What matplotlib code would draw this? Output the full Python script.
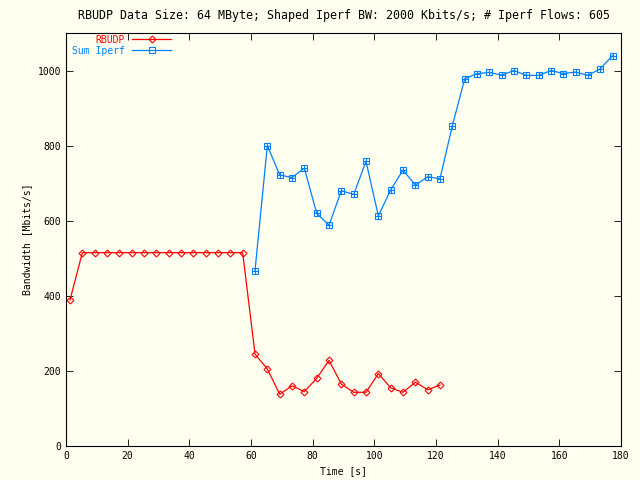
import numpy as np
import matplotlib
matplotlib.use("Agg")
import matplotlib.pyplot as plt

rbudp_t = [1.3 + 4 * k for k in range(31)]
rbudp_bw = [389] + [515] * 14 + [245, 205, 138, 160, 145, 180, 228, 165, 143, 143,
                                 193, 155, 143, 170, 150, 162]
iperf_t = [61.3 + 4 * k for k in range(30)]
iperf_bw = [467, 800, 722, 715, 740, 620, 588, 680, 670, 758, 613, 682, 735, 695, 717,
            712, 853, 978, 992, 995, 988, 1000, 987, 987, 1000, 992, 996, 987, 1005, 1040]

plt.rcParams["font.family"] = "DejaVu Sans Mono"
plt.rcParams["font.size"] = 7

fig = plt.figure(figsize=(6.4, 4.8), dpi=100, facecolor="#fffff0")
ax = fig.add_axes([66 / 640, 34 / 480, 555 / 640, 413 / 480], facecolor="#fffff0")

red = "#ff0000"
blue = "#0080ff"
ax.plot(rbudp_t, rbudp_bw, color=red, lw=0.9, marker="D", ms=3.5, mfc="none", mew=0.8, label="RBUDP")
ax.plot(iperf_t, iperf_bw, color=blue, lw=0.9, marker="s", ms=5, mfc="none", mew=0.8, label="Sum Iperf")
ax.plot(iperf_t, iperf_bw, color=blue, lw=0, marker="+", ms=5, mew=0.8)

ax.set_xlim(0, 180)
ax.set_ylim(0, 1100)
ax.set_xticks(range(0, 181, 20))
ax.set_yticks(range(0, 1001, 200))
ax.tick_params(direction="in", top=True, right=True, length=5, width=0.6)
for s in ax.spines.values():
    s.set_linewidth(0.8)
ax.set_xlabel("Time [s]")
ax.set_ylabel("Bandwidth [Mbits/s]")
ax.set_title("RBUDP Data Size: 64 MByte; Shaped Iperf BW: 2000 Kbits/s; # Iperf Flows: 605", pad=10)

leg = ax.legend(loc="upper left", bbox_to_anchor=(0.0, 1.01), frameon=False, markerfirst=False,
                handlelength=4, borderaxespad=0.2, labelspacing=0.1)
for txt, c in zip(leg.get_texts(), [red, blue]):
    txt.set_color(c)

fig.savefig("out.png", dpi=100, facecolor=fig.get_facecolor())
